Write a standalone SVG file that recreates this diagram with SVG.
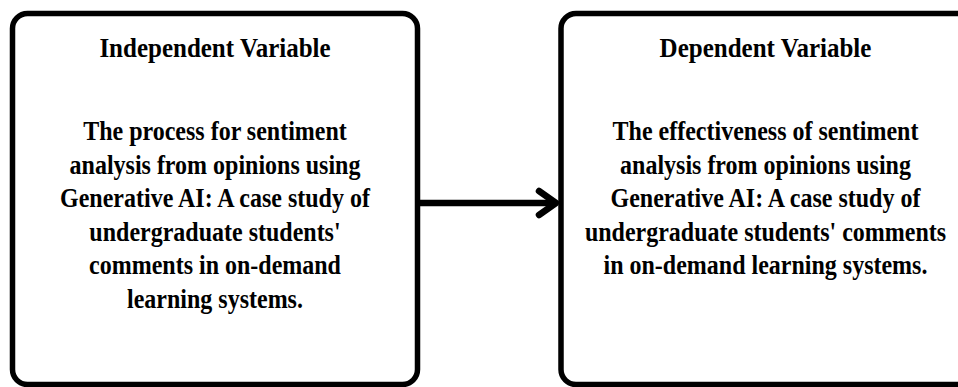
<svg xmlns="http://www.w3.org/2000/svg" width="958" height="387" viewBox="0 0 958 387">
<style>
.box{fill:#fff;stroke:#000;stroke-width:5.5}
.t{font-family:"Liberation Serif","Times New Roman",serif;font-weight:bold;fill:#000;text-anchor:middle}
.title{font-size:25px}
.body{font-size:24px}
.conn{fill:none;stroke:#000;stroke-width:6.5;stroke-linecap:round;stroke-linejoin:round}
</style>
<rect width="958" height="387" fill="#fff"/>
<g id="independent">
<rect class="box" x="12.5" y="13.5" width="405" height="371" rx="15"/>
<text class="t title" x="215" y="57.5" transform="matrix(1,0,0,1.1,0,-5.75)">Independent Variable</text>
<text class="t body" x="215" y="140" transform="matrix(1,0,0,1.1,0,-14)">The process for sentiment</text>
<text class="t body" x="215" y="173.6" transform="matrix(1,0,0,1.1,0,-17.36)">analysis from opinions using</text>
<text class="t body" x="215" y="207.2" transform="matrix(1,0,0,1.1,0,-20.72)">Generative AI: A case study of</text>
<text class="t body" x="215" y="240.8" transform="matrix(1,0,0,1.1,0,-24.08)">undergraduate students'</text>
<text class="t body" x="215" y="274.4" transform="matrix(1,0,0,1.1,0,-27.44)">comments in on-demand</text>
<text class="t body" x="215" y="308" transform="matrix(1,0,0,1.1,0,-30.8)">learning systems.</text>
</g>
<g id="dependent">
<rect class="box" x="561" y="13.5" width="420" height="371" rx="15"/>
<text class="t title" x="765.5" y="57.5" transform="matrix(1,0,0,1.1,0,-5.75)">Dependent Variable</text>
<text class="t body" x="765.5" y="140" transform="matrix(1,0,0,1.1,0,-14)">The effectiveness of sentiment</text>
<text class="t body" x="765.5" y="173.6" transform="matrix(1,0,0,1.1,0,-17.36)">analysis from opinions using</text>
<text class="t body" x="765.5" y="207.2" transform="matrix(1,0,0,1.1,0,-20.72)">Generative AI: A case study of</text>
<text class="t body" x="765.5" y="240.8" transform="matrix(1,0,0,1.1,0,-24.08)">undergraduate students' comments</text>
<text class="t body" x="765.5" y="274.4" transform="matrix(1,0,0,1.1,0,-27.44)">in on-demand learning systems.</text>
</g>
<g id="connectors">
<line class="conn" x1="420" y1="203" x2="554" y2="203"/>
<polyline class="conn" points="539,191 556,203 539,215"/>
</g>
</svg>
